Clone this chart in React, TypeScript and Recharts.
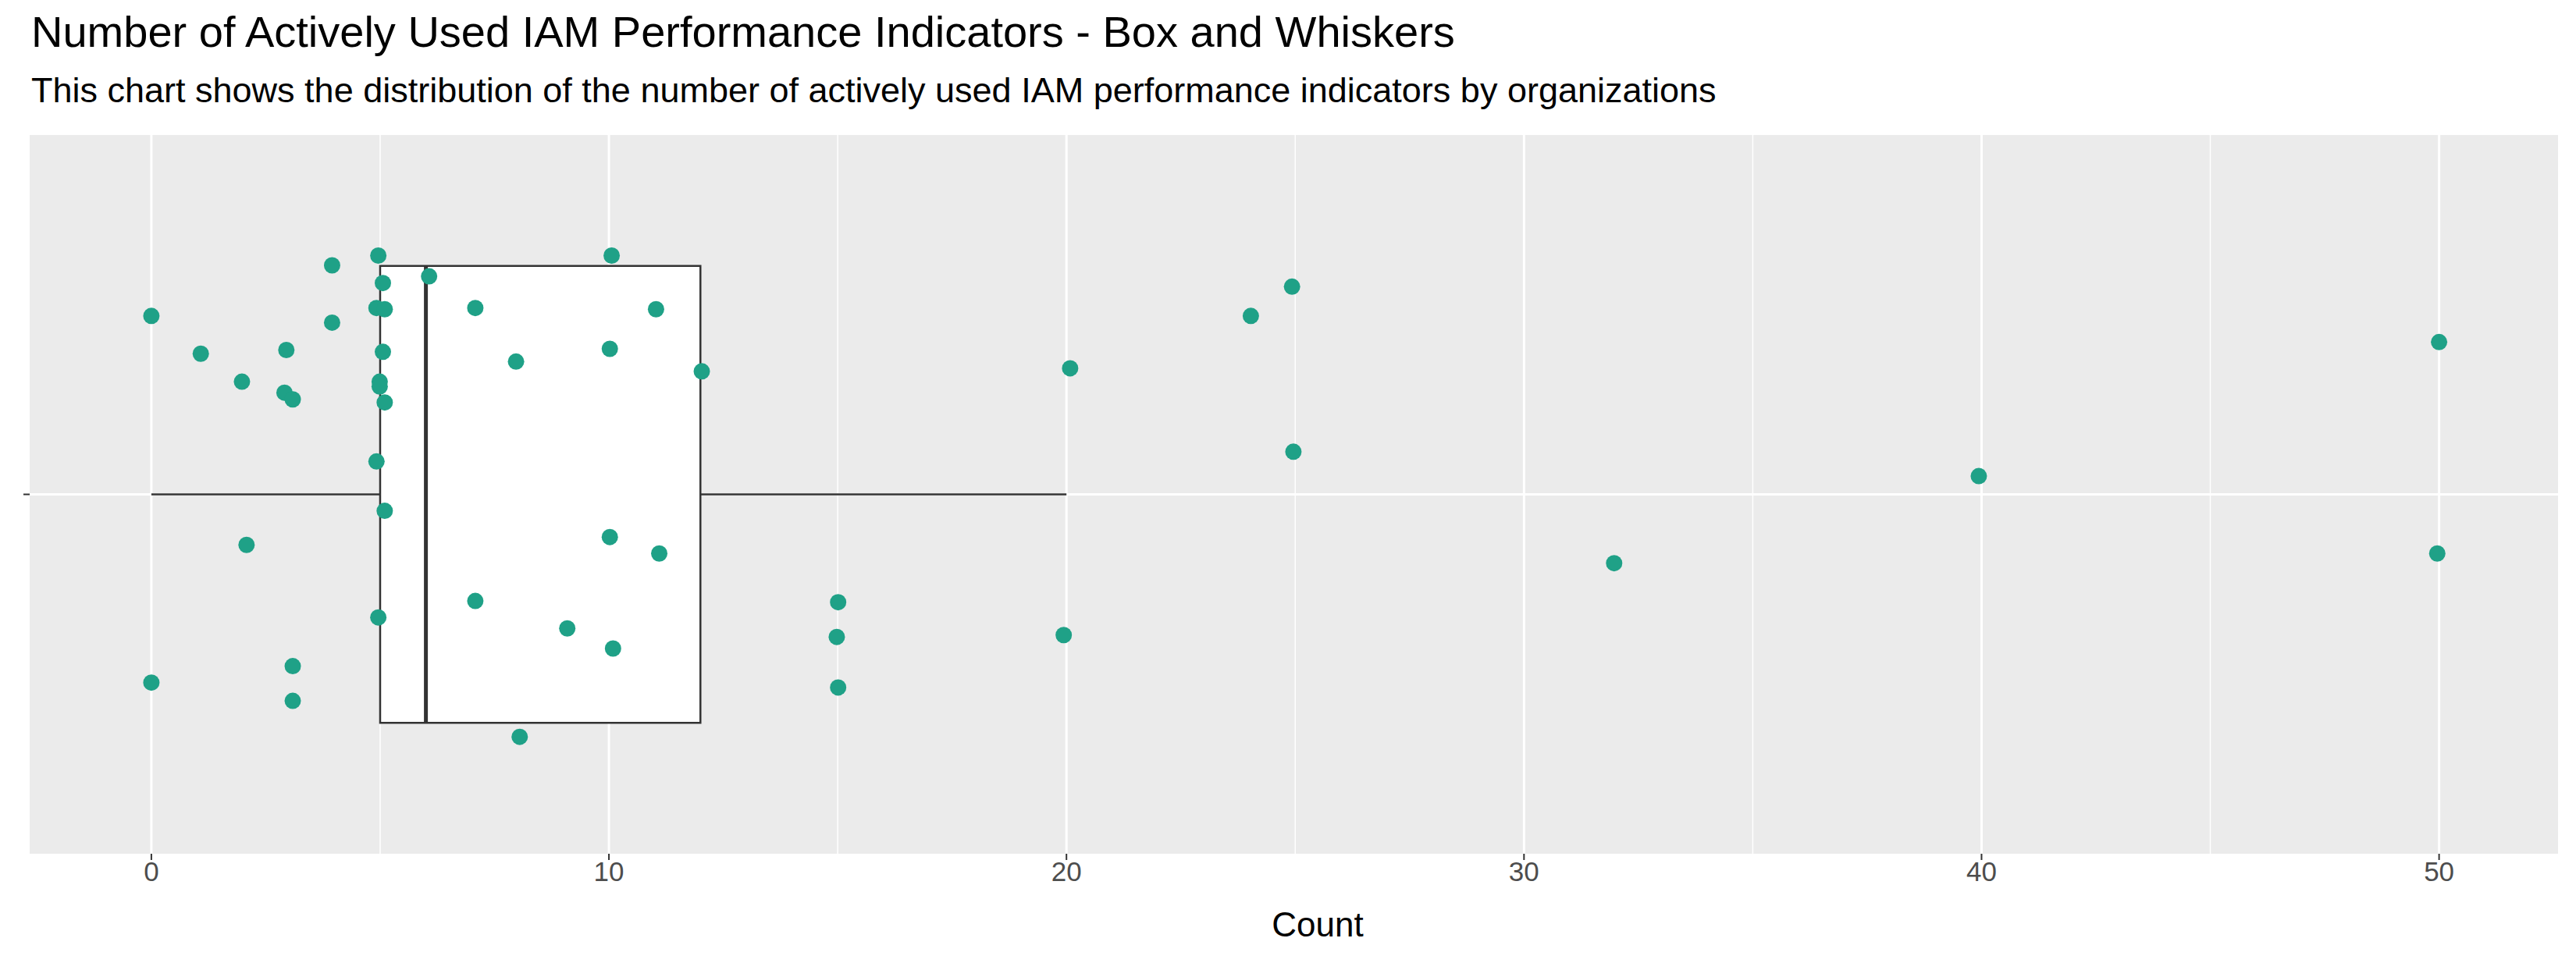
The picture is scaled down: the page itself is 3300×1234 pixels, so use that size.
import { ScatterChart, Scatter, XAxis, YAxis, CartesianGrid, ReferenceArea, ReferenceLine } from "recharts";

// jittered observations: count (x) and jitter position (y, box centred at 1)
const counts = [5, 4, 10, 6, 5, 0, 5, 5, 7, 11, 4, 24, 25, 1, 3, 5, 8, 10, 12, 20, 50, 2, 3, 3, 5, 5, 5, 25, 5, 40, 5, 2, 10, 11, 32, 50, 7, 15, 5, 9, 15, 20, 10, 3, 0, 15, 3, 8];
const jitter = [1.392, 1.376, 1.392, 1.358, 1.347, 1.293, 1.306, 1.304, 1.306, 1.304, 1.282, 1.293, 1.341, 1.231, 1.237, 1.234, 1.218, 1.239, 1.202, 1.207, 1.25, 1.185, 1.167, 1.156, 1.185, 1.177, 1.151, 1.07, 1.054, 1.03, 0.973, 0.917, 0.93, 0.903, 0.887, 0.903, 0.825, 0.823, 0.798, 0.78, 0.766, 0.769, 0.747, 0.718, 0.691, 0.683, 0.661, 0.602];
const xOffsets = [-0.04, -0.05, 0.06, 0.07, 0.06, 0, -0.08, 0.1, 0.08, 0.03, -0.05, 0.03, -0.07, 0.08, -0.05, 0.06, -0.03, 0.02, 0.03, 0.08, 0, -0.02, -0.09, 0.09, -0.01, -0.01, 0.1, -0.04, -0.08, -0.06, 0.1, 0.08, 0.02, 0.1, -0.03, -0.04, 0.08, 0.01, -0.04, 0.09, -0.02, -0.06, 0.09, 0.09, 0, 0.01, 0.09, 0.05];
const xTicks = [0, 10, 20, 30, 40, 50];
const minorTicks = [5, 15, 25, 35, 45];
const box = { lower: 0, q1: 5, median: 6, q3: 12, upper: 20 };

const points = counts.map((c, i) => ({ x: c + xOffsets[i], y: jitter[i] }));

const font = "Arial, 'Liberation Sans', sans-serif";

export default function App() {
  return (
    <div style={{ position: "absolute", left: 0, top: 0, width: 3300, height: 1234, background: "#fff", fontFamily: font }}>
      <div style={{ position: "absolute", left: 40, top: 8, fontSize: 56, color: "#000" }}>
        Number of Actively Used IAM Performance Indicators - Box and Whiskers
      </div>
      <div style={{ position: "absolute", left: 40, top: 90, fontSize: 45, color: "#000" }}>
        This chart shows the distribution of the number of actively used IAM performance indicators by organizations
      </div>
      <ScatterChart width={3300} height={1234} margin={{ top: 173, right: 23, bottom: 70, left: 28 }}>
        <CartesianGrid fill="#EBEBEB" stroke="#fff" strokeWidth={1.5} horizontal={false} verticalValues={minorTicks} />
        <CartesianGrid fill="none" stroke="#fff" strokeWidth={3} horizontalValues={[1]} verticalValues={xTicks} />
        <XAxis type="number" dataKey="x" domain={[-2.66, 52.6]} ticks={xTicks} allowDataOverflow
          axisLine={false} tickSize={8} tickLine={{ stroke: "#333", strokeWidth: 2 }}
          tick={{ fontSize: 35, fill: "#4D4D4D", fontFamily: font }} height={70} />
        <YAxis type="number" dataKey="y" domain={[0.41, 1.59]} ticks={[1]} allowDataOverflow width={10}
          axisLine={false} tickSize={8} tickLine={{ stroke: "#333", strokeWidth: 2 }} tickFormatter={() => ""} />
        <ReferenceLine segment={[{ x: box.lower, y: 1 }, { x: box.q1, y: 1 }]} stroke="#333" strokeWidth={2.5} />
        <ReferenceLine segment={[{ x: box.q3, y: 1 }, { x: box.upper, y: 1 }]} stroke="#333" strokeWidth={2.5} />
        <ReferenceArea x1={box.q1} x2={box.q3} y1={0.625} y2={1.375} fill="#fff" fillOpacity={1} stroke="#333" strokeWidth={2.5} />
        <ReferenceLine segment={[{ x: box.median, y: 0.625 }, { x: box.median, y: 1.375 }]} stroke="#333" strokeWidth={5} />
        <Scatter data={points} fill="#1FA187" isAnimationActive={false}
          shape={(p: any) => <circle cx={p.cx} cy={p.cy} r={10.5} fill="#1FA187" />} />
      </ScatterChart>
      <div style={{ position: "absolute", left: 1688, top: 1160, transform: "translateX(-50%)", fontSize: 44, color: "#000" }}>
        Count
      </div>
    </div>
  );
}
